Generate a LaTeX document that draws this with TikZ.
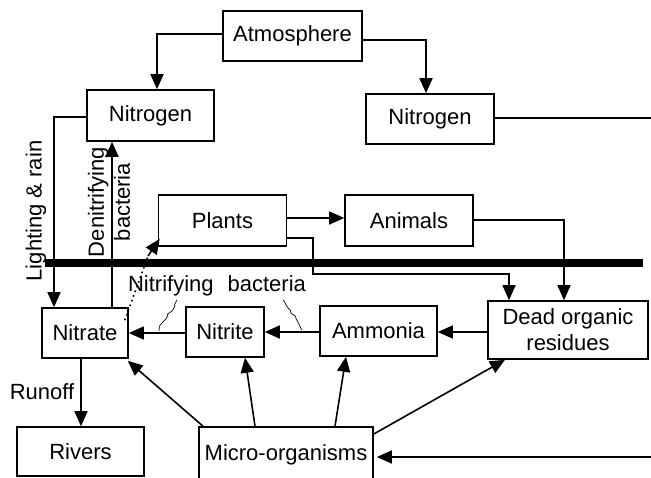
\documentclass[tikz,border=0pt]{standalone}
\usepackage{fontspec}
\setmainfont{Liberation Sans}
\usetikzlibrary{arrows.meta,positioning,decorations.pathmorphing}
\tikzset{
  cyclebox/.style={
    draw=black,
    line width=1.6pt,
    fill=white,
    inner sep=2pt,
    align=center
  },
  arrow/.style={
    -{Triangle[length=15pt,width=13pt]},
    line width=1.6pt
  },
  plainline/.style={
    line width=1.6pt
  },
  sidetext/.style={
    rotate=90,
    align=center
  },
  squiggle/.style={
    decorate,
    decoration={random steps, segment length=4pt, amplitude=2pt},
    line width=0.7pt
  }
}

\begin{document}
\begin{tikzpicture}[x=1pt,y=-1pt,font=\fontsize{22}{26}\selectfont]
\useasboundingbox (0,0) rectangle (651,477);

\node[cyclebox, minimum width=139pt, minimum height=50pt] (atm) at (292.5,36) {Atmosphere};
\node[cyclebox, minimum width=127pt, minimum height=51pt] (nit1) at (150.5,115.5) {Nitrogen};
\node[cyclebox, minimum width=128pt, minimum height=50pt] (nit2) at (430,119) {Nitrogen};
\node[cyclebox, minimum width=128pt, minimum height=51pt] (plants) at (222.5,220.5) {Plants};
\node[cyclebox, minimum width=128pt, minimum height=51pt] (animals) at (409,220.5) {Animals};
\node[cyclebox, minimum width=86pt, minimum height=50pt] (nitrate) at (85,333) {Nitrate};
\node[cyclebox, minimum width=78pt, minimum height=50pt] (nitrite) at (225,332) {Nitrite};
\node[cyclebox, minimum width=117pt, minimum height=50pt] (ammonia) at (378.5,331) {Ammonia};
\node[cyclebox, minimum width=160pt, minimum height=58pt] (dead) at (568,330) {Dead organic\\residues};
\node[cyclebox, minimum width=127pt, minimum height=49pt] (rivers) at (80.5,451.5) {Rivers};
\node[cyclebox, minimum width=174pt, minimum height=56pt] (micro) at (286,455) {Micro-organisms};

% edge of the page
\coordinate (rimN) at (653,118);
\coordinate (rimM) at (653,457);

% ground
\draw[line width=8pt] (45,263) -- (643,263);

\draw[arrow] (atm.west |- 0,34) -- (157,34) -- (nit1.north -| 157,0);
\draw[arrow] (atm.east |- 0,40) -- (426,40) -- (nit2.north -| 426,0);
\draw[plainline] (nit2.east |- 0,118) -- (rimN);

\draw[arrow] (nit1.west |- 0,117) -- (54,117) -- (nitrate.north -| 54,0);
\node[sidetext] (lightlbl) at (36,211) {Lighting \& rain};
\draw[arrow] (nitrate.north -| 112,0) -- (nit1.south -| 112,0);
\node[sidetext] (denitlbl) at (109,202) {Denitrifying\\bacteria};

\draw[arrow] (plants.east |- 0,218) -- (animals.west |- 0,218);
\draw[arrow] (plants.east |- 0,238) -- (313,238) -- (313,274) -- (509,274) -- (dead.north -| 509,0);
\draw[arrow] (animals.east |- 0,220) -- (564,220) -- (dead.north -| 564,0);
% dotted return to plants
\coordinate (dotend) at (148,256);
\draw[line width=1.6pt, dash pattern=on 1.6pt off 3.4pt] ([xshift=-4pt,yshift=-13pt]nitrate.north east) -- (dotend);
\draw[arrow] (dotend) -- ([xshift=2pt,yshift=8pt]plants.south west);

\draw[arrow] (dead.west |- 0,332) -- (ammonia.east |- 0,332);
\draw[arrow] (ammonia.west |- 0,332) -- (nitrite.east |- 0,332);
\draw[arrow] (nitrite.west |- 0,333) -- (nitrate.east |- 0,333);
\node (nitrilbl) at (217,286) {Nitrifying\hspace{14pt}bacteria};
\coordinate (sq1) at (159,331);
\coordinate (sq2) at (302,330);
\draw[squiggle] (nitrilbl.south -| 177,0) -- (sq1);
\draw[squiggle] (nitrilbl.south -| 283,0) -- (sq2);

\draw[arrow] (nitrate.south -| 81,0) -- (rivers.north -| 81,0);
\node (runofflbl) at (42,392) {Runoff};

\draw[arrow] (micro.north -| 203,0) -- ([xshift=-1pt,yshift=-2pt]nitrate.south east);
\draw[arrow] (micro.north -| 255,0) -- (nitrite.south -| 245,0);
\draw[arrow] (micro.north -| 335,0) -- (ammonia.south -| 346,0);
\draw[arrow] (micro.east |- 0,434) -- (dead.south -| 505,0);
\draw[arrow] (rimM) -- ([xshift=3pt]micro.east |- rimM);
\end{tikzpicture}
\end{document}
